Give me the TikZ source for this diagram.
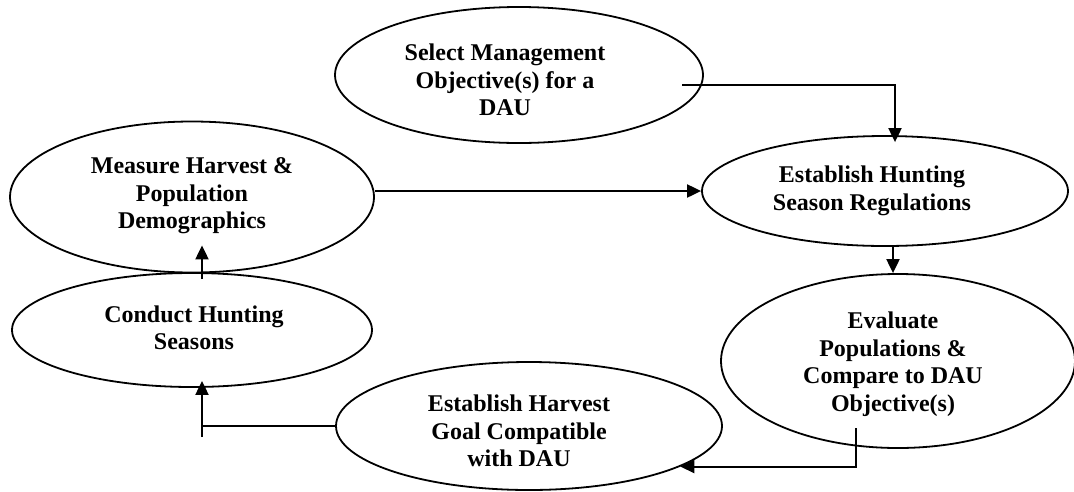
\documentclass[tikz,border=0pt]{standalone}
\usepackage{fontspec}
\setmainfont{Liberation Serif}
\usetikzlibrary{shapes.geometric,arrows.meta}
\begin{document}
\begin{tikzpicture}[x=1pt,y=-1pt,
  oval/.style={ellipse,draw,line width=1.8pt,inner sep=0pt},
  lbl/.style={font=\bfseries\fontsize{24}{27.5}\selectfont,align=center,inner sep=0pt},
  conn/.style={line width=2pt,-{Triangle[length=14pt,width=13pt]}},
  plain/.style={line width=2pt}]
\useasboundingbox (0,0) rectangle (1074,491);
% ellipses
\node[oval,minimum width=368pt,minimum height=136pt] (sel)  at (519,75)  {};
\node[oval,minimum width=364pt,minimum height=151pt] (meas) at (192,197) {};
\node[oval,minimum width=366pt,minimum height=110pt] (hunt) at (885,191) {};
\node[oval,minimum width=360pt,minimum height=114pt] (cond) at (192,330) {};
\node[oval,minimum width=354pt,minimum height=174pt] (eval) at (898,361) {};
\node[oval,minimum width=386pt,minimum height=128pt] (harv) at (529,426) {};
% labels
\node[lbl] (selT)  at (505,80)  {Select Management\\Objective(s) for a\\DAU};
\node[lbl] (measT) at (192,196) {Measure Harvest \&\\Population\\Demographics};
\node[lbl] (huntT) at (872,191) {Establish Hunting\\Season Regulations};
\node[lbl] (condT) at (194,328) {Conduct Hunting\\Seasons};
\node[lbl] (evalT) at (893,364) {Evaluate\\Populations \&\\Compare to DAU\\Objective(s)};
\node[lbl] (harvT) at (519,431) {Establish Harvest\\Goal Compatible\\with DAU};
% connectors
\coordinate (s1) at (682,85);
\draw[conn] (s1) -| ([xshift=10pt,yshift=-7pt]hunt.north);
\draw[conn] (meas.east |- hunt.west) -- (hunt.west);
\draw[conn] ([xshift=8pt]hunt.south) -- ([xshift=8pt]hunt.south |- eval.north);
\coordinate (e1) at (856,428);
\draw[conn] (e1) |- (harv.-15);
\coordinate (h1) at (202,437);
\draw[plain] (harv.west) -- (harv.west -| h1);
\draw[conn] (h1) -- ([xshift=10pt,yshift=7pt]cond.south);
\draw[conn] ([xshift=10pt,yshift=-7pt]cond.north) -- ([xshift=10pt,yshift=28pt]meas.south);
\end{tikzpicture}
\end{document}
